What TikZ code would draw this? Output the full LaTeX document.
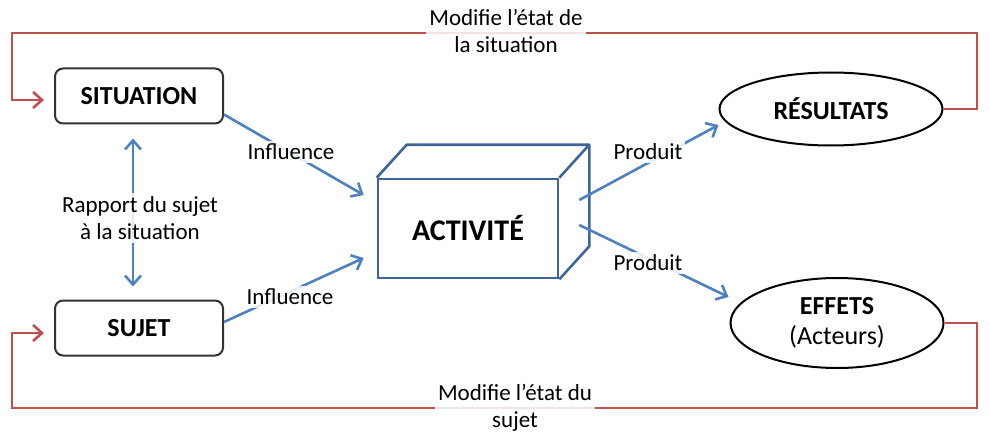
\documentclass[tikz,border=0pt]{standalone}
\usepackage{fontspec}
\setmainfont{Carlito}
\usetikzlibrary{shapes.geometric,arrows.meta,calc}
\definecolor{redl}{HTML}{C0504D}
\definecolor{bluel}{HTML}{4F81BD}
\definecolor{boxblue}{HTML}{3F6597}
\tikzset{
  rbox/.style={draw=black!80, line width=2pt, rounded corners=8pt, minimum width=168pt, minimum height=55pt, font=\fontsize{26}{30}\selectfont\bfseries},
  ell/.style={ellipse, draw=black, line width=2pt, inner sep=0pt},
  lbl/.style={fill=white, fill opacity=0.85, text opacity=1, inner sep=3pt, font=\fontsize{23}{27}\selectfont, align=center},
  redarrow/.style={draw=redl, line width=2.6pt, -{Straight Barb[length=9pt,width=16pt]}},
  bluearrow/.style={draw=bluel, line width=2.6pt, -{Straight Barb[length=9pt,width=16pt]}},
  actbox/.style={draw=boxblue, line width=2.6pt}
}
\begin{document}
\begin{tikzpicture}[x=1pt,y=-1pt]
\useasboundingbox (0,0) rectangle (990,433);
% nodes
\node[rbox] (sit) at (139,96) {SITUATION};
\node[rbox] (suj) at (139,328) {SUJET};
\node[actbox, minimum width=180pt, minimum height=99pt, inner sep=0pt, font=\fontsize{30}{34}\selectfont\bfseries] (act) at (468,228.5) {ACTIVITÉ};
\draw[actbox, line join=round] (act.north west) -- ($(act.north west)+(30,-33)$) -- ($(act.north east)+(30,-33)$) -- ($(act.south east)+(30,-33)$) -- (act.south east);
\draw[actbox] (act.north east) -- ($(act.north east)+(30,-33)$);
\node[ell, minimum width=223pt, minimum height=73pt, font=\fontsize{26}{30}\selectfont\bfseries] (res) at (831,109) {RÉSULTATS};
\node[ell, minimum width=213pt, minimum height=90pt, align=center, font=\fontsize{26}{30}\selectfont] (eff) at (837,323) {\textbf{EFFETS}\\(Acteurs)};
% red feedback loops
\coordinate (tr) at (977,33);
\coordinate (tl) at (12,33);
\coordinate (br) at (977,408);
\coordinate (bl) at (12,408);
\draw[redarrow] (res.east) -| (tr) -- (tl) |- ($(sit.west)+(-10,4)$);
\draw[redarrow] (eff.east) -| (br) -- (bl) |- ($(suj.west)+(-10,5)$);
% blue arrows
\draw[bluearrow, {Straight Barb[length=9pt,width=16pt]}-{Straight Barb[length=9pt,width=16pt]}] ($(sit.south)+(-6,14)$) -- ($(suj.north)+(-6,-13)$);
\draw[bluearrow] ($(sit.south east)+(0,-10)$) -- ($(act.west)+(-13,-33.5)$);
\draw[bluearrow] ($(suj.east)+(0,-6)$) -- ($(act.west)+(-13,29.5)$);
\draw[bluearrow] ($(act.east)+(20,-28.5)$) -- ($(res.west)+(0,16)$);
\draw[bluearrow] ($(act.east)+(20,-3.5)$) -- ($(eff.west)+(-1,-26)$);
% labels
\node[lbl] (l1) at (506,31) {Modifie l’état de\\la situation};
\node[lbl] (l2) at (515,408) {Modifie l’état du\\sujet};
\node[lbl] (l3) at (140,218) {Rapport du sujet\\à la situation};
\node[lbl] (l4) at (291,152) {Influence};
\node[lbl] (l5) at (290,297) {Influence};
\node[lbl] (l6) at (648,152) {Produit};
\node[lbl] (l7) at (648,263) {Produit};
\end{tikzpicture}
\end{document}
